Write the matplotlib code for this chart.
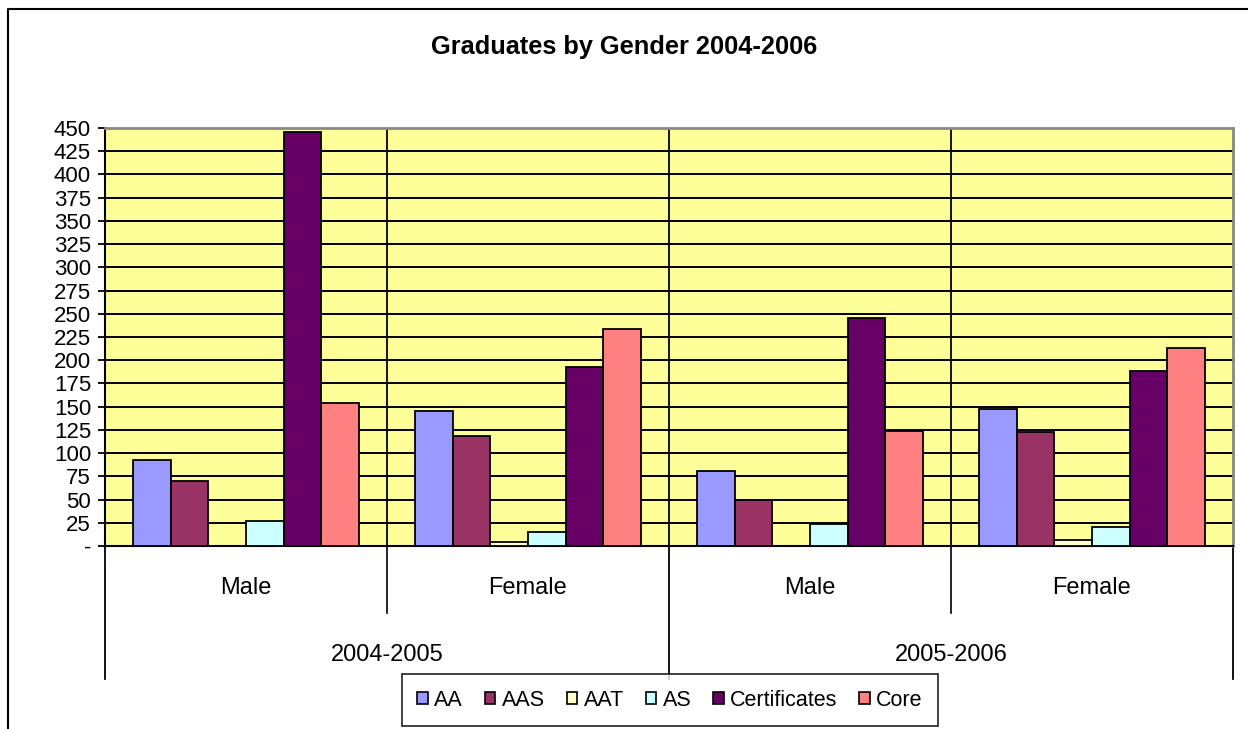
import matplotlib.pyplot as plt
from matplotlib.lines import Line2D
from matplotlib.patches import Patch
import numpy as np

plt.rcParams['font.family'] = ['Liberation Sans', 'DejaVu Sans']

# dados
generos = ['Male', 'Female', 'Male', 'Female']
anos = ['2004-2005', '2005-2006']
series = ['AA', 'AAS', 'AAT', 'AS', 'Certificates', 'Core']
aa = [93, 145, 81, 148]
aas = [70, 118, 50, 123]
aat = [0, 4, 0, 6]
as_ = [27, 15, 24, 20]
certificados = [446, 193, 245, 188]
core = [154, 234, 124, 213]
cores = ['#9999FF', '#993366', '#FFFFCC', '#CCFFFF', '#660066', '#FF8080']

valores = [aa, aas, aat, as_, certificados, core]

fig = plt.figure(figsize=(12.48, 7.29), dpi=100)
W, H = 1248., 729.
x0, x1, y0, y1 = 105, 1233, 546, 128
ax = fig.add_axes([x0 / W, 1 - y0 / H, (x1 - x0) / W, (y0 - y1) / H])
ax.set_facecolor('#FFFF99')

x = np.arange(len(generos))
largura = 1 / 7.5
for k, (nome, v) in enumerate(zip(series, valores)):
    pos = x + (k - 2.5) * largura
    ax.bar(pos, v, largura, color=cores[k], edgecolor='black', linewidth=1.3,
           label=nome, zorder=3)

ax.set_xlim(-0.5, 3.5)
ax.set_ylim(0, 450)
ax.set_yticks(np.arange(0, 451, 25))
ax.set_yticklabels(['-'] + [str(t) for t in range(25, 451, 25)], fontsize=16)
for t in range(25, 451, 25):
    ax.axhline(t, color='black', lw=1.4, zorder=1)
ax.tick_params(axis='y', direction='out', length=5, width=1.3, pad=5)
ax.set_xticks([])

# separadores de categorias
for s in [0.5, 1.5, 2.5]:
    ax.axvline(s, color='black', lw=1.3, zorder=2)

ax.spines['left'].set_linewidth(1.5)
ax.spines['bottom'].set_linewidth(1.5)
ax.spines['top'].set_color('#888888')
ax.spines['right'].set_color('#888888')
ax.spines['top'].set_linewidth(2)
ax.spines['right'].set_linewidth(2)

trans = ax.get_xaxis_transform()
h_ax = y0 - y1
def fy(py):
    return (y0 - py) / h_ax

# linhas do eixo de categorias em dois niveis
for s in [0.5, 2.5]:
    ax.plot([s, s], [0, fy(613)], color='black', lw=1.2, transform=trans, clip_on=False)
for s in [-0.5, 1.5, 3.5]:
    ax.plot([s, s], [0, fy(679)], color='black', lw=1.3, transform=trans, clip_on=False)

for i, g in enumerate(generos):
    ax.text(i, fy(588), g, ha='center', va='center', fontsize=17, transform=trans)
for j, a in enumerate(anos):
    ax.text(2 * j + 0.5, fy(655), a, ha='center', va='center', fontsize=17, transform=trans)

fig.text(624 / W, 1 - 47 / H, 'Graduates by Gender 2004-2006', ha='center', va='center',
         fontsize=18.3, fontweight='bold')

# moldura externa
fig.add_artist(Line2D([8 / W, 8 / W, 1], [0, 1 - 9 / H, 1 - 9 / H], color='black', lw=1.5))

handles = [Patch(facecolor=c, edgecolor='black', linewidth=1.2) for c in cores]
leg = fig.legend(handles, series, loc='center', bbox_to_anchor=(670 / W, 1 - 700 / H),
                 ncol=6, fontsize=15.5, frameon=True, fancybox=False, edgecolor='black',
                 handlelength=0.5, handleheight=0.5, handletextpad=0.3,
                 columnspacing=1.0, borderpad=0.7, borderaxespad=0)
leg.get_frame().set_linewidth(1.3)

fig.savefig('out.png', dpi=100)
